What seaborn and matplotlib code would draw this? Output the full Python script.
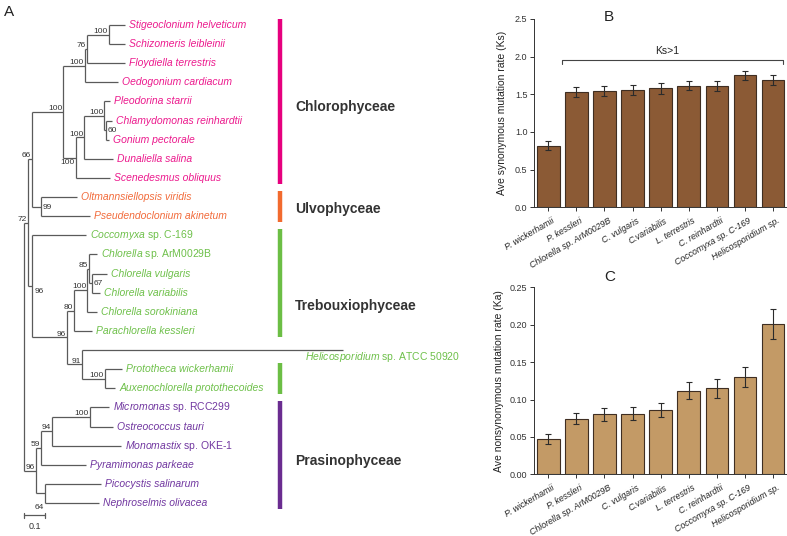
import numpy as np
import pandas as pd
import matplotlib
matplotlib.use("Agg")
import matplotlib.pyplot as plt
from matplotlib.transforms import ScaledTranslation
import seaborn as sns

sns.set_style("ticks")
plt.rcParams['font.family'] = ['Liberation Sans', 'DejaVu Sans']
plt.rcParams['mathtext.fontset'] = 'custom'
plt.rcParams['mathtext.it'] = 'Liberation Sans:italic'
plt.rcParams['mathtext.rm'] = 'Liberation Sans'

# ---------------- tree data ----------------
tip_labels = [
    "Stigeoclonium helveticum", "Schizomeris leibleinii", "Floydiella terrestris",
    "Oedogonium cardiacum", "Pleodorina starrii", "Chlamydomonas reinhardtii",
    "Gonium pectorale", "Dunaliella salina", "Scenedesmus obliquus",
    "Oltmannsiellopsis viridis", "Pseudendoclonium akinetum",
    r"$\it{Coccomyxa}$ sp. C-169", r"$\it{Chlorella}$ sp. ArM0029B",
    "Chlorella vulgaris", "Chlorella variabilis", "Chlorella sorokiniana",
    "Parachlorella kessleri", r"$\it{Helicosporidium}$ sp. ATCC 50920",
    "Prototheca wickerhamii", "Auxenochlorella protothecoides",
    r"$\it{Micromonas}$ sp. RCC299", "Ostreococcus tauri",
    r"$\it{Monomastix}$ sp. OKE-1", "Pyramimonas parkeae",
    "Picocystis salinarum", "Nephroselmis olivacea",
]
tip_parent = ["stig", "stig", "n76", "chlA", "pleo", "n60", "n60", "chlC", "chlB",
              "ulv", "ulv", "treb", "n85", "n67", "n67", "chlo", "n80", "n91",
              "proto", "proto", "micro", "micro", "n94", "n59", "n64", "n64"]
tip_depth = [0.481, 0.481, 0.481, 0.448, 0.410, 0.419, 0.405, 0.424, 0.410,
             0.252, 0.314, 0.295, 0.346, 0.395, 0.362, 0.346, 0.322, 1.519,
             0.465, 0.433, 0.405, 0.424, 0.460, 0.295, 0.365, 0.356]
tip_group = [0]*9 + [1]*2 + [2]*9 + [3]*6

node_ids = ["root", "n72", "n66", "chl", "chlA", "n76", "stig", "chlB", "chlC",
            "pleo", "n60", "ulv", "treb", "trebA", "n80", "chlo", "n85", "n67",
            "n91", "proto", "pras", "n59", "n94", "micro", "n64"]
node_parent = [None, "root", "n72", "n66", "chl", "chlA", "n76", "chl", "chlB",
               "chlC", "pleo", "n66", "n72", "treb", "trebA", "n80", "chlo", "n85",
               "trebA", "n91", "root", "pras", "n59", "n94", "pras"]
node_depth = [0.0, 0.020, 0.040, 0.187, 0.290, 0.301, 0.405, 0.248, 0.287,
              0.382, 0.390, 0.081, 0.040, 0.203, 0.238, 0.301, 0.311, 0.322,
              0.276, 0.386, 0.057, 0.080, 0.132, 0.314, 0.100]
node_support = ["", "72", "66", "100", "100", "76", "100", "100", "100",
                "100", "60", "99", "96", "96", "80", "100", "85", "67",
                "91", "100", "96", "59", "94", "100", "64"]
node_lpos = ["al", "al", "al", "al", "al", "al", "al", "bl", "al",
             "al", "r", "r", "rb", "al", "al", "al", "al", "r",
             "al", "al", "al", "al", "al", "al", "lb"]

clade_names = ["Chlorophyceae", "Ulvophyceae", "Trebouxiophyceae", "", "Prasinophyceae"]
clade_first = [0, 9, 11, 18, 20]
clade_last = [8, 10, 16, 19, 25]
clade_label_y = [4.3, 9.6, 14.7, None, 22.8]
clade_color_idx = [0, 1, 2, 2, 3]
bar_colors = ["#E6007E", "#F26A2E", "#6CBE45", "#6A2C90"]
text_colors = ["#EC1A8D", "#F26B3B", "#6EC04A", "#7137A0"]
clade_bar_depth = 1.219
clade_label_depth = 1.29
helico_label_depth = 1.338
helico_label_drop = 0.37
scale_len = 0.1

# ---------------- rate data ----------------
species = ["P. wickerhamii", "P. kessleri", "Chlorella sp. ArM0029B", "C. vulgaris",
           "C.variabilis", "L. terrestris", "C. reinhardtii", "Coccomyxa sp. C-169",
           "Helicosporidium sp."]
ks = [0.82, 1.53, 1.54, 1.56, 1.58, 1.615, 1.61, 1.75, 1.69]
ks_err = [0.065, 0.065, 0.065, 0.068, 0.07, 0.058, 0.062, 0.058, 0.066]
ka = [0.047, 0.074, 0.080, 0.081, 0.086, 0.112, 0.115, 0.130, 0.201]
ka_err = [0.0067, 0.0074, 0.0087, 0.0087, 0.0094, 0.011, 0.0127, 0.013, 0.0205]
bracket_from, bracket_to, bracket_y, bracket_drop = 0.5, 8.35, 1.95, 0.05
bracket_text = "Ks>1"

W, H = 787, 536
fig = plt.figure(figsize=(W/100, H/100), dpi=100)

# ---------------- tree panel ----------------
axT = fig.add_axes([0, 0, 530/W, 1])
axT.set_xlim(-24/210, (530-24)/210)
axT.set_ylim((536-25)/19.12, -25/19.12)
axT.axis('off')

children = {n: [] for n in node_ids}
for i, p in enumerate(tip_parent):
    children[p].append(('t', i))
for n, p in zip(node_ids, node_parent):
    if p is not None:
        children[p].append(('n', n))
depth = dict(zip(node_ids, node_depth))
ycache = {}

def ypos(kind, key):
    if kind == 't':
        return float(key)
    if key in ycache:
        return ycache[key]
    ys = [ypos(k, v) for k, v in children[key]]
    ycache[key] = (min(ys) + max(ys)) / 2
    return ycache[key]

lc = "#5a5a5a"
lw = 0.9
for n in node_ids:
    ys = [ypos(k, v) for k, v in children[n]]
    axT.plot([depth[n], depth[n]], [min(ys), max(ys)], color=lc, lw=lw, solid_capstyle='butt')
for n, p in zip(node_ids, node_parent):
    if p is not None:
        axT.plot([depth[p], depth[n]], [ypos('n', n)]*2, color=lc, lw=lw, solid_capstyle='butt')
for i, p in enumerate(tip_parent):
    axT.plot([depth[p], tip_depth[i]], [i, i], color=lc, lw=lw, solid_capstyle='butt')
    col = text_colors[tip_group[i]]
    lab = tip_labels[i]
    style = 'normal' if '$' in lab else 'italic'
    if i == 17:
        axT.text(helico_label_depth, i + helico_label_drop, lab, color=col, fontsize=7.5,
                 style=style, va='center', ha='left')
    else:
        axT.annotate(lab, (tip_depth[i], i), xytext=(3, 0), textcoords='offset points',
                     color=col, fontsize=7.5, style=style, va='center', ha='left')

for n, s, pos in zip(node_ids, node_support, node_lpos):
    if not s:
        continue
    y = ypos('n', n)
    kw = dict(fontsize=6, color="#333333", textcoords='offset points')
    if pos == 'al':
        axT.annotate(s, (depth[n], y), xytext=(-0.8, 1.3), ha='right', va='baseline', **kw)
    elif pos == 'bl':
        axT.annotate(s, (depth[n], y), xytext=(-0.8, -1.0), ha='right', va='top', **kw)
    elif pos == 'r':
        axT.annotate(s, (depth[n], y), xytext=(1.2, -0.5), ha='left', va='center', **kw)
    elif pos == 'rb':
        axT.annotate(s, (depth[n], y), xytext=(1.5, -1.5), ha='left', va='top', **kw)
    elif pos == 'lb':
        ys = [ypos(k, v) for k, v in children[n]]
        axT.annotate(s, (depth[n], max(ys)), xytext=(-0.8, -0.8), ha='right', va='top', **kw)

# clade bars
for name, a, b, ly, ci in zip(clade_names, clade_first, clade_last, clade_label_y, clade_color_idx):
    axT.plot([clade_bar_depth]*2, [a - 0.32, b + 0.32], color=bar_colors[ci], lw=3.2,
             solid_capstyle='butt')
    if name:
        axT.text(clade_label_depth, ly, name, fontsize=10, fontweight='bold',
                 color="#333333", va='center', ha='left')

# scale bar
sy = len(tip_labels) - 1 + 0.63
axT.plot([0, scale_len], [sy, sy], color=lc, lw=0.9)
axT.plot([0, 0], [sy - 0.13, sy + 0.13], color=lc, lw=0.9)
axT.plot([scale_len]*2, [sy - 0.13, sy + 0.13], color=lc, lw=0.9)
axT.text(scale_len/2, sy + 0.35, str(scale_len), fontsize=6.5, color="#333333",
         ha='center', va='top')

# ---------------- bar panels ----------------
def bar_panel(rect, vals, errs, color, ylim, ticks, fmt, ylabel, labelpad):
    ax = fig.add_axes(rect)
    df = pd.DataFrame({"species": species, "val": vals})
    sns.barplot(data=df, x="species", y="val", color=color, saturation=1,
                edgecolor="#3f2e22", linewidth=0.8, width=0.8, errorbar=None, ax=ax)
    ax.errorbar(np.arange(len(species)), vals, yerr=errs, fmt='none', ecolor="#2b2b2b",
                elinewidth=0.8, capsize=2.3, capthick=0.8)
    ax.set_xlim(-0.5, len(species) - 0.5)
    ax.set_ylim(*ylim)
    ax.set_yticks(ticks)
    ax.set_yticklabels([fmt.format(t) for t in ticks])
    ax.set_xlabel("")
    ax.set_ylabel(ylabel, fontsize=7.5, color="#222222", labelpad=labelpad)
    ax.tick_params(axis='y', labelsize=6.5, length=3, width=0.7, colors="#333333", pad=2)
    ax.tick_params(axis='x', length=3, width=0.7, colors="#333333", pad=3.5)
    ax.set_xticks(np.arange(len(species)))
    ax.set_xticklabels(species, rotation=30, ha='right', rotation_mode='anchor',
                       fontsize=6.3, style='italic', color="#222222")
    shift = ScaledTranslation(0.035, 0, fig.dpi_scale_trans)
    for lab in ax.get_xticklabels():
        lab.set_transform(lab.get_transform() + shift)
    sns.despine(ax=ax)
    for sp in ['left', 'bottom']:
        ax.spines[sp].set_linewidth(0.7)
        ax.spines[sp].set_color("#333333")
    return ax

axB = bar_panel([534.3/W, (H-207.3)/H, (W-534.3)/W, (207.3-19)/H], ks, ks_err, "#8B5A35",
                (0, 2.5), [0.0, 0.5, 1.0, 1.5, 2.0, 2.5], "{:.1f}",
                "Ave synonymous mutation rate (Ks)", 6)
axB.plot([bracket_from, bracket_from, bracket_to, bracket_to],
         [bracket_y - bracket_drop, bracket_y, bracket_y, bracket_y - bracket_drop],
         color="#444444", lw=0.8)
axB.text((bracket_from + bracket_to)/2 - 0.2, bracket_y + 0.06, bracket_text,
         fontsize=7.5, ha='center', va='bottom', color="#222222")

axC = bar_panel([534.3/W, (H-474.3)/H, (W-534.3)/W, (474.3-287.3)/H], ka, ka_err, "#C39A66",
                (0, 0.25), [0.0, 0.05, 0.10, 0.15, 0.20, 0.25], "{:.2f}",
                "Ave nonsynonymous mutation rate (Ka)", 4)

fig.text(4/W, 1 - 16/H, "A", fontsize=11, color="#222222")
fig.text(604/W, 1 - 21/H, "B", fontsize=11, color="#222222")
fig.text(604/W, 1 - 281/H, "C", fontsize=11, color="#222222")

fig.savefig("out.png", dpi=100)
